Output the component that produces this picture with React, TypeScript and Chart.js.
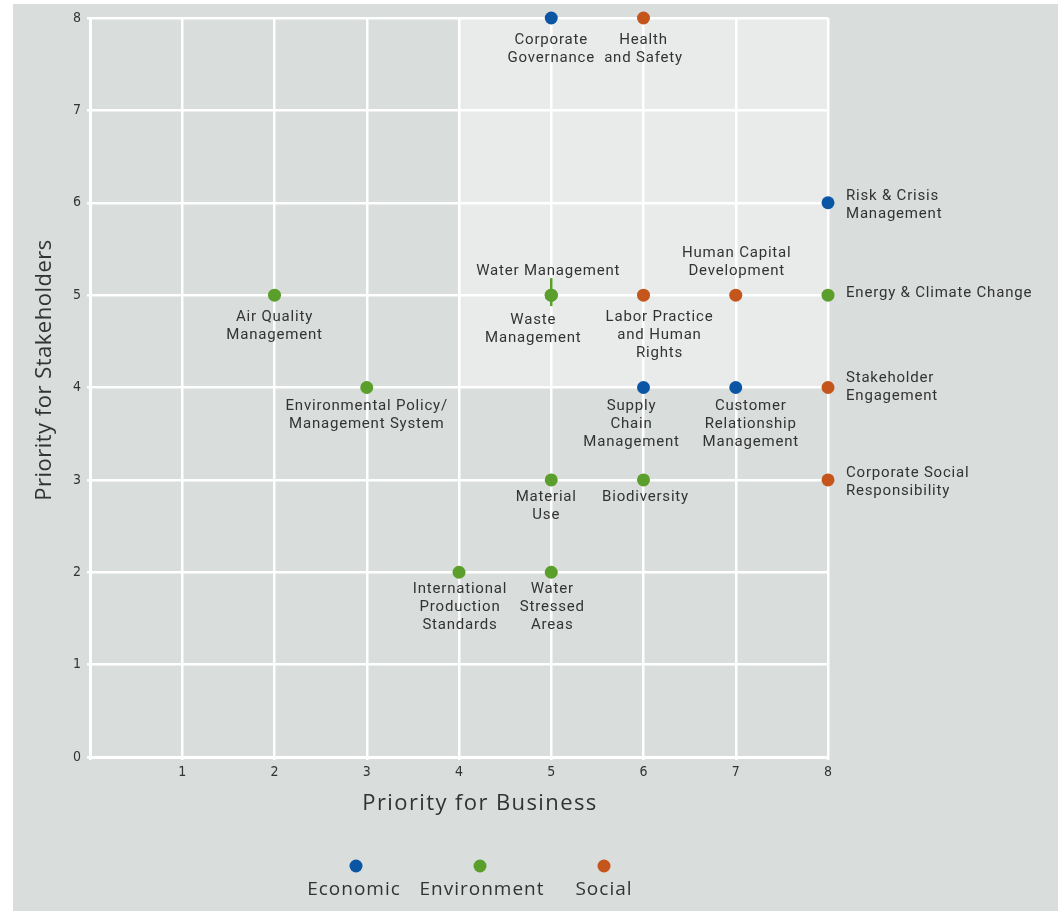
import React, { useEffect, useRef } from 'react';
import { Chart, registerables } from 'chart.js';

Chart.register(...registerables);

// ---------- data ----------
const seriesNames = ['Economic', 'Environment', 'Social'];
const seriesColors = ['#0b56a4', '#5a9e2b', '#c4561b'];

const economicX = [5, 8, 6, 7];
const economicY = [8, 6, 4, 4];
const economicLabels = [
  ['Corporate', 'Governance'],
  ['Risk & Crisis', 'Management'],
  ['Supply', 'Chain', 'Management'],
  ['Customer', 'Relationship', 'Management'],
];

const environmentX = [2, 5, 5, 8, 3, 5, 6, 4, 5];
const environmentY = [5, 5, 5, 5, 4, 3, 3, 2, 2];
const environmentLabels = [
  ['Air Quality', 'Management'],
  ['Water Management'],
  ['Waste', 'Management'],
  ['Energy & Climate Change'],
  ['Environmental Policy/', 'Management System'],
  ['Material', 'Use'],
  ['Biodiversity'],
  ['International', 'Production', 'Standards'],
  ['Water', 'Stressed', 'Areas'],
];

const socialX = [6, 6, 7, 8, 8];
const socialY = [8, 5, 5, 4, 3];
const socialLabels = [
  ['Health', 'and Safety'],
  ['Labor Practice', 'and Human', 'Rights'],
  ['Human Capital', 'Development'],
  ['Stakeholder', 'Engagement'],
  ['Corporate Social', 'Responsibility'],
];

const xTickLabels = ['', '1', '2', '3', '4', '5', '6', '7', '8'];
const yTickLabels = ['0', '1', '2', '3', '4', '5', '6', '7', '8'];

const xTitle = 'Priority for Business';
const yTitle = 'Priority for Stakeholders';

// ---------- label layout (dx, dy of first line centre, alignment) ----------
type Place = { dx: number; dy: number; align: CanvasTextAlign; stem?: boolean };
const economicPlace: Place[] = [
  { dx: 0, dy: 22, align: 'center' },
  { dx: 18, dy: -7, align: 'left' },
  { dx: -12, dy: 19, align: 'center' },
  { dx: 15, dy: 19, align: 'center' },
];
const environmentPlace: Place[] = [
  { dx: 0, dy: 22, align: 'center' },
  { dx: -3, dy: -24, align: 'center', stem: true },
  { dx: -18, dy: 25, align: 'center' },
  { dx: 18, dy: -2, align: 'left' },
  { dx: 0, dy: 19, align: 'center' },
  { dx: -5, dy: 17, align: 'center' },
  { dx: 2, dy: 17, align: 'center' },
  { dx: 1, dy: 17, align: 'center' },
  { dx: 1, dy: 17, align: 'center' },
];
const socialPlace: Place[] = [
  { dx: 0, dy: 22, align: 'center' },
  { dx: 16, dy: 22, align: 'center' },
  { dx: 1, dy: -42, align: 'center' },
  { dx: 18, dy: -9, align: 'left' },
  { dx: 18, dy: -7, align: 'left' },
];

const allLabels = [economicLabels, environmentLabels, socialLabels];
const allPlaces = [economicPlace, environmentPlace, socialPlace];

const toPts = (xs: number[], ys: number[]) => xs.map((x, i) => ({ x, y: ys[i] }));

const TEXT = '#333333';
const LABEL_FONT = '15px Roboto';

const bgPlugin = {
  id: 'bgPlugin',
  beforeDraw(chart: any) {
    const ctx = chart.ctx;
    const { x, y } = chart.scales;
    ctx.save();
    ctx.fillStyle = '#d9dddc';
    ctx.fillRect(13, 4, chart.width - 13, 907);
    ctx.fillStyle = '#e9ebea';
    const l = x.getPixelForValue(4), r = x.getPixelForValue(8);
    const t = y.getPixelForValue(8), b = y.getPixelForValue(4);
    ctx.fillRect(l, t, r - l, b - t);
    ctx.restore();
  },
  beforeDatasetsDraw(chart: any) {
    const ctx = chart.ctx;
    ctx.save();
    chart.data.datasets.forEach((ds: any, di: number) => {
      const meta = chart.getDatasetMeta(di);
      meta.data.forEach((el: any, i: number) => {
        const p = allPlaces[di][i];
        if (p && p.stem) {
          ctx.strokeStyle = ds.backgroundColor;
          ctx.lineWidth = 2.5;
          ctx.beginPath();
          ctx.moveTo(el.x, el.y - 17);
          ctx.lineTo(el.x, el.y + 11);
          ctx.stroke();
        }
      });
    });
    ctx.restore();
  },
  afterDatasetsDraw(chart: any) {
    const ctx = chart.ctx;
    ctx.save();
    ctx.font = LABEL_FONT;
    (ctx as any).letterSpacing = '0.8px';
    ctx.fillStyle = TEXT;
    ctx.textBaseline = 'middle';
    chart.data.datasets.forEach((ds: any, di: number) => {
      const meta = chart.getDatasetMeta(di);
      meta.data.forEach((el: any, i: number) => {
        const lines = allLabels[di][i];
        const p = allPlaces[di][i];
        ctx.textAlign = p.align;
        lines.forEach((ln: string, li: number) => {
          ctx.fillText(ln, el.x + p.dx, el.y + p.dy + li * 18);
        });
      });
    });

    // axis titles
    ctx.font = '22px "Open Sans"';
    (ctx as any).letterSpacing = '1.4px';
    ctx.fillStyle = TEXT;
    ctx.textAlign = 'center';
    ctx.fillText(xTitle, 480, 804);
    (ctx as any).letterSpacing = '0.5px';
    ctx.save();
    ctx.translate(45, 370);
    ctx.rotate(-Math.PI / 2);
    ctx.fillText(yTitle, 0, 0);
    ctx.restore();

    // legend
    const lx = [356, 480, 604];
    const tx = [354, 482, 604];
    ctx.font = '19px "Open Sans"';
    (ctx as any).letterSpacing = '1px';
    seriesNames.forEach((n, i) => {
      ctx.fillStyle = seriesColors[i];
      ctx.beginPath();
      ctx.arc(lx[i], 866, 6.5, 0, Math.PI * 2);
      ctx.fill();
      ctx.fillStyle = TEXT;
      ctx.fillText(n, tx[i], 890);
    });
    (ctx as any).letterSpacing = '0px';
    ctx.restore();
  },
};

export default function App() {
  const ref = useRef<HTMLCanvasElement>(null);
  useEffect(() => {
    if (!ref.current) return;
    const mk = (i: number, xs: number[], ys: number[]) => ({
      label: seriesNames[i],
      data: toPts(xs, ys),
      backgroundColor: seriesColors[i],
      borderColor: seriesColors[i],
      pointRadius: 6.5,
      pointBorderWidth: 0,
      clip: false as any,
    });
    const chart = new Chart(ref.current, {
      type: 'scatter',
      data: {
        datasets: [
          mk(0, economicX, economicY),
          mk(1, environmentX, environmentY),
          mk(2, socialX, socialY),
        ],
      },
      options: {
        animation: false,
        responsive: false,
        layout: { padding: { top: 18, right: 230, left: 0, bottom: 0 } },
        plugins: { legend: { display: false }, tooltip: { enabled: false } },
        scales: {
          x: {
            type: 'linear',
            min: 0,
            max: 8,
            afterFit: (s: any) => { s.height = 158; },
            grid: { color: '#ffffff', lineWidth: 2.5, tickLength: 3, tickColor: '#ffffff' },
            border: { display: true, color: '#ffffff', width: 3 },
            ticks: {
              stepSize: 1,
              padding: 4,
              color: TEXT,
              font: { family: '"DejaVu Sans Condensed"', size: 14 },
              callback: (v: any) => xTickLabels[Number(v)] ?? '',
            },
          },
          y: {
            type: 'linear',
            min: 0,
            max: 8,
            afterFit: (s: any) => { s.width = 90; },
            grid: { color: '#ffffff', lineWidth: 2.5, tickLength: 3, tickColor: '#ffffff' },
            border: { display: true, color: '#ffffff', width: 3 },
            ticks: {
              stepSize: 1,
              padding: 6,
              color: TEXT,
              font: { family: '"DejaVu Sans Condensed"', size: 14 },
              callback: (v: any) => yTickLabels[Number(v)] ?? '',
            },
          },
        },
      },
      plugins: [bgPlugin],
    });
    return () => chart.destroy();
  }, []);
  return (
    <div style={{ position: 'absolute', left: 0, top: 0, width: 1058, height: 915, background: '#ffffff' }}>
      <canvas ref={ref} width={1058} height={915} />
    </div>
  );
}
